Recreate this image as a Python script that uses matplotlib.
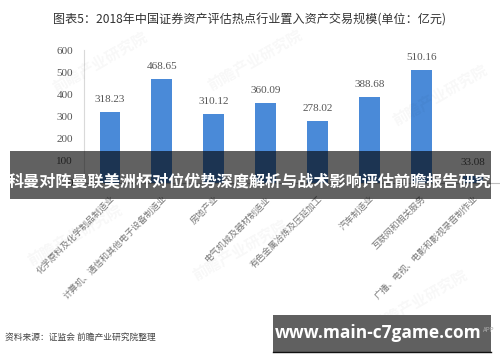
import matplotlib
matplotlib.use("Agg")
import matplotlib.pyplot as plt
from matplotlib.patches import Rectangle

categories = [
    "化学原料及化学制品制造业",
    "计算机、通信和其他电子设备制造业",
    "房地产业",
    "电气机械及器材制造业",
    "有色金属冶炼及压延加工",
    "汽车制造业",
    "互联网和相关服务",
    "广播、电视、电影和影视录音制作业",
]
values = [318.23, 468.65, 310.12, 360.09, 278.02, 388.68, 510.16, 33.08]
value_labels = ["318.23", "468.65", "310.12", "360.09", "278.02", "388.68", "510.16", "33.08"]
yticks = [0, 100, 200, 300, 400, 500, 600]

title = "图表5：2018年中国证券资产评估热点行业置入资产交易规模(单位：亿元)"
source = "资料来源：证监会 前瞻产业研究院整理"
banner = "科曼对阵曼联美洲杯对位优势深度解析与战术影响评估前瞻报告研究"
url = "www.main-c7game.com"

plt.rcParams['font.family'] = ['Noto Sans CJK SC', 'DejaVu Sans']

W, H = 500, 362
fig = plt.figure(figsize=(W / 100, H / 100), dpi=100)
fig.patch.set_facecolor("white")

ax = fig.add_axes([84 / W, 1 - 183 / H, (499 - 84) / W, (183 - 50) / H])
x = list(range(len(categories)))
ax.bar(x, values, width=0.4, color="#4a8ad8", zorder=2)
ax.set_xlim(-0.5, len(categories) - 0.5)
ax.set_ylim(0, 600)
ax.set_yticks(yticks)
ax.set_yticklabels([str(v) for v in yticks], family="Liberation Serif", fontsize=8, color="#555555")
ax.tick_params(axis="y", length=0, pad=8)
ax.set_xticks(x)
ax.set_xticklabels(categories, rotation=45, ha="right", va="top", rotation_mode="anchor",
                   fontsize=6.4, color="#7a7a7a")
ax.tick_params(axis="x", length=0, pad=8)
for s in ["top", "right"]:
    ax.spines[s].set_visible(False)
ax.spines["left"].set_color("#d9d9d9")
ax.spines["left"].set_linewidth(0.8)
ax.spines["bottom"].set_color("#bfbfbf")
ax.spines["bottom"].set_linewidth(0.8)

for xi, v, lab in zip(x, values, value_labels):
    ax.annotate(lab, (xi, v), xytext=(0, 6), textcoords="offset points", ha="center", va="bottom",
                family="Liberation Serif", fontsize=8, color="#555555")

fig.text(250 / W, 1 - 20 / H, title, ha="center", va="center", fontsize=8.7, color="#333333")
fig.text(5 / W, 1 - 337 / H, source, ha="left", va="center", fontsize=6.3, color="#444444")

# faint watermarks
for (wx, wy) in [(100, 62), (255, 60), (440, 95), (75, 235), (240, 250), (420, 300)]:
    fig.text(wx / W, 1 - wy / H, "前瞻产业研究院", ha="center", va="center", rotation=30,
             fontsize=11, color="#000000", alpha=0.03, fontweight="bold")

# overlay banner 1
fig.patches.append(Rectangle((10 / W, 1 - 199 / H), (491 - 10) / W, (199 - 151) / H,
                             transform=fig.transFigure, facecolor="#000000", alpha=0.62,
                             edgecolor="none", zorder=5))
fig.text(250 / W, 1 - 181 / H, banner, ha="center", va="center", fontsize=11.6,
         fontweight="bold", color="white", zorder=6)

# overlay banner 2
fig.patches.append(Rectangle((273 / W, 1 - 352 / H), (491 - 273) / W, (352 - 315) / H,
                             transform=fig.transFigure, facecolor="#606060",
                             edgecolor="none", zorder=5))
fig.lines.append(plt.Line2D([273 / W, 491 / W], [1 - 352 / H, 1 - 352 / H], transform=fig.transFigure,
                            color="#111111", linewidth=1, zorder=6))
fig.text(378 / W, 1 - 333 / H, url, ha="center", va="center", fontsize=12.5,
         fontweight="bold", color="white", family="Open Sans", zorder=6)
fig.text(489 / W, 1 - 330 / H, "APP", ha="center", va="center", fontsize=4.5,
         color="#aaaaaa", zorder=7)

fig.savefig("out.png", dpi=100)
